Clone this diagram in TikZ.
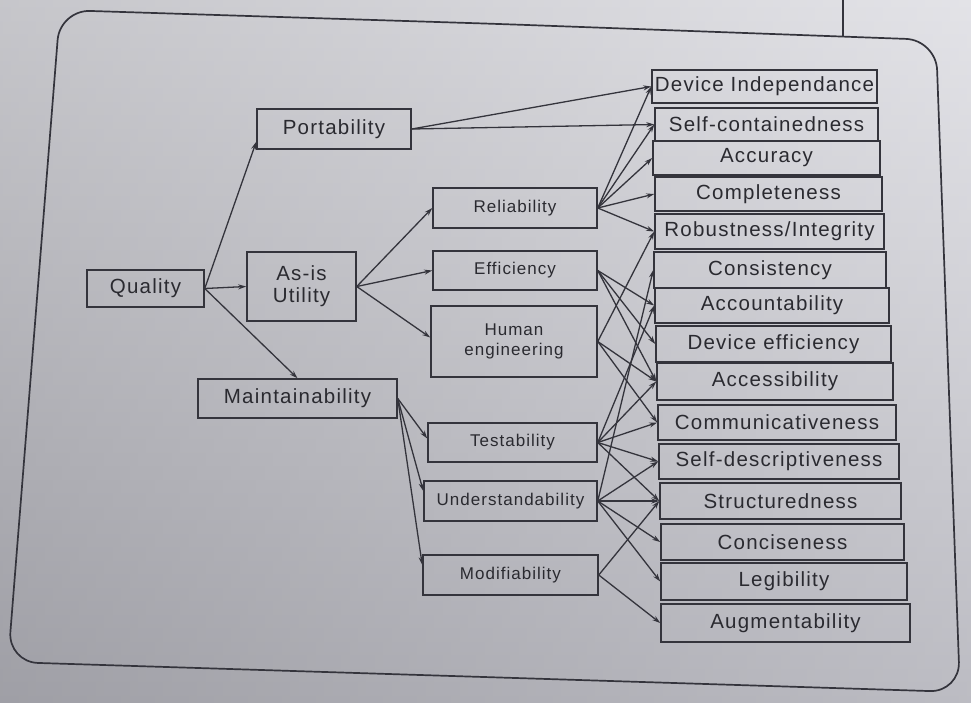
\documentclass[tikz,border=0pt]{standalone}
\usepackage{fontspec}
\newfontfamily\lblfont[LetterSpace=6]{Liberation Sans}
\usetikzlibrary{arrows.meta}
\definecolor{paperTop}{HTML}{DADAE0}
\definecolor{paperBot}{HTML}{A6A6AF}
\definecolor{ink}{HTML}{34343C}
\definecolor{inktext}{HTML}{2A2A30}
\tikzset{
  box/.style={draw=ink, line width=1.5pt, inner sep=0pt, text=inktext, align=center},
  bigtxt/.style={font=\lblfont\fontsize{20.5}{22}\selectfont},
  midtxt/.style={font=\lblfont\fontsize{17}{19.5}\selectfont},
  link/.style={draw=ink, line width=1.3pt, -{Stealth[length=8pt,width=5pt]}},
}
\begin{document}
\begin{tikzpicture}[x=1pt,y=-1pt]
% paper
\useasboundingbox (0,0) rectangle (971,702);
\shade[top color=paperTop, bottom color=paperBot] (0,0) rectangle (971,702);
\shade[left color=black!45, right color=white, opacity=0.25] (0,0) rectangle (971,702);
% frame
\draw[ink, line width=1.7pt, rounded corners=30pt]
  (500,24) -- (936,40) -- (960,692) -- (8,662) -- (60,10) -- cycle;
\draw[ink, line width=1.3pt] (843,0) -- (843,36);

% root and first level
\node[box, bigtxt, minimum width=117pt, minimum height=37pt] (q) at (145.5,288.5) {Quality};
\node[box, bigtxt, minimum width=154pt, minimum height=40pt] (p) at (334,129) {Portability};
\node[box, bigtxt, minimum width=109pt, minimum height=69pt] (a) at (301.5,286.5) {As-is\\Utility};
\node[box, bigtxt, minimum width=199pt, minimum height=39pt] (m) at (297.5,398.5) {Maintainability};

% second level
\node[box, midtxt, minimum width=164pt, minimum height=40pt] (rel) at (515,208) {Reliability};
\node[box, midtxt, minimum width=164pt, minimum height=39pt] (eff) at (515,270.5) {Efficiency};
\node[box, midtxt, minimum width=166pt, minimum height=71pt] (hum) at (514,341.5) {Human\\engineering};
\node[box, midtxt, minimum width=169pt, minimum height=39pt] (tst) at (512.5,442.5) {Testability};
\node[box, midtxt, minimum width=173pt, minimum height=40pt] (und) at (510.5,501) {Understandability};
\node[box, midtxt, minimum width=175pt, minimum height=40pt] (mod) at (510.5,575) {Modifiability};

% primitive characteristics
\node[box, bigtxt, minimum width=225pt, minimum height=33pt] (di)   at (764.5,86.5)  {Device Independance};
\node[box, bigtxt, minimum width=223pt, minimum height=33pt] (sc)   at (766.5,124.5) {Self-containedness};
\node[box, bigtxt, minimum width=227pt, minimum height=34pt] (acc)  at (766.5,158)   {Accuracy};
\node[box, bigtxt, minimum width=227pt, minimum height=34pt] (cmp)  at (768.5,194)   {Completeness};
\node[box, bigtxt, minimum width=229pt, minimum height=35pt] (rob)  at (769.5,231.5) {Robustness/Integrity};
\node[box, bigtxt, minimum width=232pt, minimum height=36pt] (con)  at (770,270)     {Consistency};
\node[box, bigtxt, minimum width=234pt, minimum height=35pt] (act)  at (772,305.5)   {Accountability};
\node[box, bigtxt, minimum width=235pt, minimum height=36pt] (dve)  at (773.5,344)   {Device efficiency};
\node[box, bigtxt, minimum width=236pt, minimum height=37pt] (acs)  at (775,381.5)   {Accessibility};
\node[box, bigtxt, minimum width=238pt, minimum height=35pt] (com)  at (777,422.5)   {Communicativeness};
\node[box, bigtxt, minimum width=240pt, minimum height=35pt] (sd)   at (779,461.5)   {Self-descriptiveness};
\node[box, bigtxt, minimum width=241pt, minimum height=36pt] (str)  at (780.5,501)   {Structuredness};
\node[box, bigtxt, minimum width=243pt, minimum height=36pt] (cns)  at (782.5,542)   {Conciseness};
\node[box, bigtxt, minimum width=246pt, minimum height=37pt] (leg)  at (784,581.5)   {Legibility};
\node[box, bigtxt, minimum width=249pt, minimum height=38pt] (aug)  at (785.5,623)   {Augmentability};

% quality to high-level characteristics
\draw[link] (q.east) -- ([yshift=8pt]p.south west);
\draw[link] (q.east) -- (a.west);
\draw[link] (q.east) -- (m.north);

% as-is utility
\draw[link] (a.east) -- (rel.west);
\draw[link] (a.east) -- (eff.west);
\draw[link] (a.east) -- ([yshift=4pt]hum.west);

% maintainability
\draw[link] (m.east) -- ([yshift=4pt]tst.west);
\draw[link] (m.east) -- ([yshift=10pt]und.west);
\draw[link] (m.east) -- ([yshift=10pt]mod.west);

% portability
\draw[link] (p.east) -- (di.west);
\draw[link] (p.east) -- (sc.west);

% reliability
\foreach \t in {di,sc,acc,cmp,rob} \draw[link] (rel.east) -- (\t.west);
% efficiency
\foreach \t in {act,dve,acs} \draw[link] (eff.east) -- (\t.west);
% human engineering
\foreach \t in {rob,acs,com} \draw[link] (hum.east) -- (\t.west);
% testability
\foreach \t in {act,acs,com,sd,str} \draw[link] (tst.east) -- (\t.west);
% understandability
\foreach \t in {con,sd,str,cns,leg} \draw[link] (und.east) -- (\t.west);
% modifiability
\foreach \t in {str,aug} \draw[link] (mod.east) -- (\t.west);
\end{tikzpicture}
\end{document}
